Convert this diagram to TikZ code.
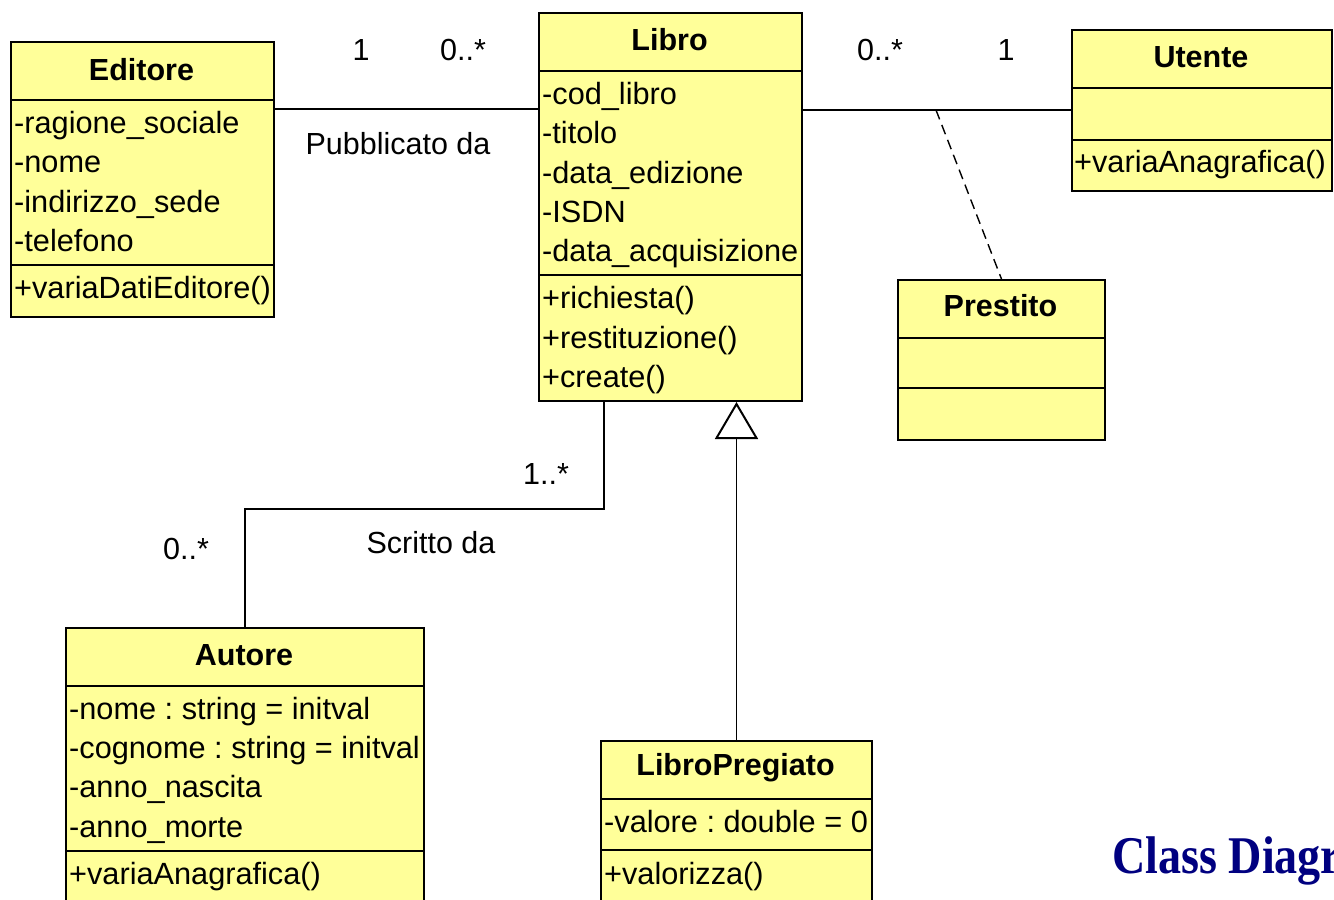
\documentclass[tikz,border=0pt]{standalone}
\usepackage{fontspec}
\setmainfont{Liberation Sans}
\newfontfamily\captionfont[FakeStretch=0.87]{Liberation Serif}
\usepackage{tikz}
\usetikzlibrary{arrows.meta,positioning}
\definecolor{classyellow}{HTML}{FFFF99}
\definecolor{captionblue}{HTML}{000080}
\frenchspacing

\begin{document}
\begin{tikzpicture}[x=1pt,y=-1pt,
	classbox/.style={draw=black,line width=2pt,fill=classyellow,anchor=north west,inner sep=0pt},
	classname/.style={inner sep=0pt,font=\fontsize{30.5}{36}\selectfont\bfseries},
	member/.style={anchor=west,inner sep=0pt,text height=22.5pt,text depth=7.5pt,yshift=-4pt,xshift=3pt,font=\fontsize{30.7}{36}\selectfont},
	mult/.style={inner sep=0pt,font=\fontsize{30.5}{36}\selectfont},
	divider/.style={line width=2pt},
	assoc/.style={line width=1.4pt}]
	\useasboundingbox (0,0) rectangle (1334,900);
	\clip (0,0) rectangle (1334,900);
	% Editore
	\node[classbox,minimum width=263,minimum height=275] (editore) at (10,41) {};
	\node[classname] (editore-name) at (141.5,70) {Editore};
	\draw[divider] (editore.west |- 0,100) -- (editore.east |- 0,100);
	\draw[divider] (editore.west |- 0,265) -- (editore.east |- 0,265);
	\node[member] (editore-a1) at (11,122) {-ragione\_sociale};
	\node[member] (editore-a2) at (11,161) {-nome};
	\node[member] (editore-a3) at (11,201) {-indirizzo\_sede};
	\node[member] (editore-a4) at (11,240) {-telefono};
	\node[member] (editore-m1) at (11,287) {+variaDatiEditore()};
	% Libro
	\node[classbox,minimum width=263,minimum height=388] (libro) at (538,12) {};
	\node[classname] (libro-name) at (669.5,40) {Libro};
	\draw[divider] (libro.west |- 0,71) -- (libro.east |- 0,71);
	\draw[divider] (libro.west |- 0,275) -- (libro.east |- 0,275);
	\node[member] (libro-a1) at (539,93) {-cod\_libro};
	\node[member] (libro-a2) at (539,132) {-titolo};
	\node[member] (libro-a3) at (539,172) {-data\_edizione};
	\node[member] (libro-a4) at (539,211) {-ISDN};
	\node[member] (libro-a5) at (539,250) {-data\_acquisizione};
	\node[member] (libro-m1) at (539,297) {+richiesta()};
	\node[member] (libro-m2) at (539,337) {+restituzione()};
	\node[member] (libro-m3) at (539,376) {+create()};
	% Utente
	\node[classbox,minimum width=260,minimum height=161] (utente) at (1071,29) {};
	\node[classname] (utente-name) at (1201,57) {Utente};
	\draw[divider] (utente.west |- 0,88) -- (utente.east |- 0,88);
	\draw[divider] (utente.west |- 0,140) -- (utente.east |- 0,140);
	\node[member] (utente-m1) at (1071,161) {+variaAnagrafica()};
	% Prestito
	\node[classbox,minimum width=207,minimum height=160] (prestito) at (897,279) {};
	\node[classname] (prestito-name) at (1000.5,306) {Prestito};
	\draw[divider] (prestito.west |- 0,338) -- (prestito.east |- 0,338);
	\draw[divider] (prestito.west |- 0,388) -- (prestito.east |- 0,388);
	% Autore
	\node[classbox,minimum width=358,minimum height=300] (autore) at (65,627) {};
	\node[classname] (autore-name) at (244,655) {Autore};
	\draw[divider] (autore.west |- 0,686) -- (autore.east |- 0,686);
	\draw[divider] (autore.west |- 0,851) -- (autore.east |- 0,851);
	\node[member] (autore-a1) at (66,708) {-nome : string = initval};
	\node[member] (autore-a2) at (66,747) {-cognome : string = initval};
	\node[member] (autore-a3) at (66,786) {-anno\_nascita};
	\node[member] (autore-a4) at (66,826) {-anno\_morte};
	\node[member] (autore-m1) at (66,873) {+variaAnagrafica()};
	% LibroPregiato
	\node[classbox,minimum width=271,minimum height=200] (pregiato) at (600,740) {};
	\node[classname] (pregiato-name) at (735.5,768) {LibroPregiato};
	\draw[divider] (pregiato.west |- 0,799) -- (pregiato.east |- 0,799);
	\draw[divider] (pregiato.west |- 0,850) -- (pregiato.east |- 0,850);
	\node[member] (pregiato-a1) at (601,821) {-valore : double = 0};
	\node[member] (pregiato-m1) at (601,873) {+valorizza()};
	% associations
	\draw[assoc] (editore.east |- 0,109) -- (libro.west |- 0,109);
	\node[mult] (pub-one) at (361,50) {1};
	\node[mult] (pub-many) at (463,50) {0..*};
	\node[mult] (pub-label) at (398,144) {Pubblicato da};
	\draw[assoc] (libro.east |- 0,110) -- (utente.west |- 0,110);
	\node[mult] (loan-many) at (880,50) {0..*};
	\node[mult] (loan-one) at (1006,50) {1};
	\coordinate (loan) at (936,110);
	\draw[assoc,dash pattern=on 10pt off 6pt] (loan) -- (prestito.north);
	\draw[assoc] (libro.south -| 604,0) -- (604,509) -| (autore.north);
	\node[mult] (wrote-many) at (546,474) {1..*};
	\node[mult] (author-many) at (186,549) {0..*};
	\node[mult] (wrote-label) at (431,543) {Scritto da};
	% generalization
	\draw[assoc,-{Triangle[open,length=37pt,width=43pt,line width=2pt]}] (pregiato.north) -- (pregiato.north |- libro.south);
	% caption
	\node[anchor=base west,inner sep=0pt,text=captionblue,font=\captionfont\fontsize{53}{60}\selectfont\bfseries] (caption) at (1112,873) {Class Diagram};
\end{tikzpicture}
\end{document}
